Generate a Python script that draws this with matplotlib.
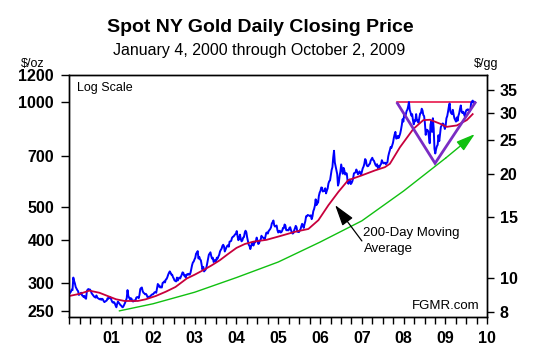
import numpy as np
import matplotlib
matplotlib.use("Agg")
import matplotlib.pyplot as plt
from matplotlib.ticker import FixedLocator, NullLocator, FixedFormatter

# ---------------- data (weekly closes, $/oz) ----------------
gold_2000 = [282, 284, 288, 287, 312, 305, 300, 293, 290, 287, 285, 278, 279,
             281, 282, 277, 276, 274, 276, 272, 271, 285, 288, 289, 288,
             288, 285, 281, 279, 277, 275, 274, 273, 277, 273, 272, 271, 270, 271,
             269, 271, 270, 267, 265, 266, 267, 268, 272, 271, 273, 274, 272]
gold_2001 = [268, 265, 264, 265, 263, 259, 256, 262, 266, 264, 262, 260, 259, 257,
             256, 258, 261, 264, 268, 272, 287, 276, 273, 270, 272, 271,
             267, 266, 268, 267, 268, 273, 274, 274, 272, 278, 289, 291, 292,
             285, 282, 281, 279, 280, 278, 274, 273, 275, 274, 276, 278, 279]
gold_2002 = [279, 281, 283, 283, 282, 291, 299, 294, 296, 292, 293, 292, 301,
             302, 304, 302, 308, 309, 313, 318, 322, 325, 322, 318, 318,
             313, 310, 306, 305, 304, 312, 306, 310, 312, 310, 314, 318, 323, 322,
             316, 317, 312, 318, 319, 318, 320, 318, 322, 330, 339, 345, 347]
gold_2003 = [352, 356, 366, 368, 372, 354, 358, 352, 350, 340, 329, 335,
             325, 327, 329, 334, 343, 352, 363, 366, 369, 360, 354, 356, 346,
             348, 351, 347, 356, 354, 359, 363, 371, 375, 378, 385, 388, 384,
             371, 376, 381, 385, 387, 383, 396, 397, 398, 406, 409, 410, 413, 416]
gold_2004 = [418, 425, 411, 400, 403, 415, 404, 397, 399, 407, 408, 420, 426,
             422, 408, 398, 388, 385, 377, 384, 391, 392, 386, 395, 394,
             398, 407, 399, 390, 392, 399, 401, 412, 408, 407, 405, 402, 410,
             420, 421, 418, 425, 428, 431, 436, 447, 451, 456, 442, 438, 439, 441]
gold_2005 = [428, 421, 424, 426, 421, 422, 426, 434, 433, 444, 441, 428, 427,
             428, 427, 434, 436, 428, 422, 418, 419, 427, 433, 440, 436,
             423, 424, 422, 427, 430, 439, 446, 442, 434, 445, 454, 469, 469,
             473, 472, 471, 469, 472, 460, 469, 485, 492, 503, 525, 505, 517, 513]
gold_2006 = [537, 549, 555, 568, 567, 553, 555, 555, 565, 546, 556, 564, 583,
             592, 595, 617, 638, 650, 693, 725, 671, 653, 637, 621, 575, 586, 613,
             631, 662, 641, 622, 647, 636, 619, 625, 623, 593, 582, 597, 599,
             581, 585, 592, 604, 624, 626, 628, 640, 631, 620, 624, 632]
gold_2007 = [625, 618, 631, 645, 652, 664, 686, 681, 659, 654, 655, 662, 665,
             679, 686, 692, 682, 679, 669, 660, 655, 663, 646, 654, 650,
             659, 664, 681, 672, 667, 668, 670, 663, 668, 672, 698, 714, 727, 743,
             739, 752, 765, 789, 808, 822, 786, 788, 800, 789, 800, 813, 834]
gold_2008 = [860, 894, 880, 924, 907, 922, 944, 953, 974, 1003, 950, 935,
             916, 925, 889, 864, 887, 882, 925, 886, 887, 873, 903, 929,
             931, 959, 948, 920, 913, 871, 806, 834, 833, 827, 797, 762, 862, 881,
             822, 900, 842, 735, 712, 732, 747, 754, 804, 773, 808, 849, 857, 869]
gold_2009 = [868, 855, 838, 857, 900, 913, 940, 972, 993, 940, 930, 925, 952, 923,
             900, 890, 880, 905, 885, 915, 930, 958, 980, 942, 932, 940,
             925, 912, 937, 950, 953, 955, 947, 941, 953, 996, 1006, 1012, 995, 1003]
series_start, series_end = 2000.02, 2009.69

# 200-day moving average
ma_years = [2000.0, 2000.25, 2000.48, 2000.72, 2000.95, 2001.12, 2001.32, 2001.64,
            2001.83, 2002.07, 2002.31, 2002.54, 2002.81, 2003.0, 2003.21, 2003.4,
            2003.6, 2003.8, 2004.0, 2004.2, 2004.4, 2004.72, 2005.04, 2005.4,
            2005.72, 2005.96, 2006.2, 2006.44, 2006.67, 2006.99, 2007.31, 2007.55,
            2007.67, 2007.91, 2008.23, 2008.47, 2008.63, 2008.87, 2009.03, 2009.27,
            2009.51, 2009.65]
ma_values = [276, 280, 286, 282, 275, 270, 267, 267, 270, 276, 284, 293, 310, 318,
             328, 338, 350, 365, 380, 390, 396, 401, 411, 423, 431, 457, 505, 552,
             596, 615, 636, 650, 665, 742, 838, 889, 891, 868, 850, 858, 889, 925]

# green long-term trend
trend_years = [2001.2, 2002.0, 2003.0, 2004.0, 2005.0, 2006.0, 2007.0, 2008.0, 2009.0, 2009.7]
trend_values = [250, 262, 283, 312, 346, 395, 455, 555, 690, 810]

# purple V pattern and red top line
v_years = [2007.85, 2008.75, 2009.71]
v_values = [994, 667, 998]
top_years = [2007.85, 2009.71]
top_values = [1000, 1000]

left_ticks = [250, 300, 400, 500, 700, 1000, 1200]
right_ticks = [8, 10, 15, 20, 25, 30, 35]
grams_per_oz = 31.1035
year_ticks = [2001, 2002, 2003, 2004, 2005, 2006, 2007, 2008, 2009, 2010]
year_labels = ["01", "02", "03", "04", "05", "06", "07", "08", "09", "10"]

# ---------------- plot ----------------
plt.rcParams['font.family'] = ['Liberation Sans', 'DejaVu Sans']

fig = plt.figure(figsize=(5.4, 3.59), dpi=100)
ax = fig.add_axes([0.1283, 0.117, 0.7741, 0.6741])

price = np.concatenate([gold_2000, gold_2001, gold_2002, gold_2003, gold_2004,
                        gold_2005, gold_2006, gold_2007, gold_2008, gold_2009])
dates = np.linspace(series_start, series_end, len(price))

ax.plot(dates, price, color='#0000ff', lw=1.4, zorder=3)
ax.plot(ma_years, ma_values, color='#c8003c', lw=1.3, zorder=4)
ax.plot(top_years, top_values, color='#e8184c', lw=1.2, zorder=2)
ax.plot(v_years, v_values, color='#7a2cc4', lw=2.0, zorder=5, solid_joinstyle='miter')
ax.plot(trend_years[:-1], trend_values[:-1], color='#10c010', lw=1.0, zorder=5)
ax.annotate('', xy=(trend_years[-1], trend_values[-1]),
            xytext=(trend_years[-2], trend_values[-2]),
            arrowprops=dict(arrowstyle='-|>,head_length=1.15,head_width=0.35',
                            mutation_scale=10, color='#10c010', lw=1.0,
                            shrinkA=0, shrinkB=0), zorder=6)

# moving-average annotation
ax.annotate('', xy=(2006.36, 505), xytext=(2007.0, 398),
            arrowprops=dict(arrowstyle='-|>,head_length=1.3,head_width=0.4',
                            mutation_scale=10, color='black', lw=0.9,
                            shrinkA=0, shrinkB=0), zorder=6)
ax.text(2007.02, 419, '200-Day Moving', fontsize=9.5, ha='left', va='center')
ax.text(2007.04, 377, 'Average', fontsize=9.5, ha='left', va='center')

ax.set_yscale('log')
ax.set_ylim(240, 1200)
ax.set_xlim(2000, 2010)

ax.yaxis.set_major_locator(FixedLocator(left_ticks))
ax.yaxis.set_major_formatter(FixedFormatter([str(v) for v in left_ticks]))
ax.yaxis.set_minor_locator(NullLocator())
ax.xaxis.set_major_locator(FixedLocator(year_ticks))
ax.xaxis.set_major_formatter(FixedFormatter(year_labels))
ax.xaxis.set_minor_locator(FixedLocator([2000 + q * 0.25 for q in range(41)]))

ax.tick_params(axis='y', which='major', direction='out', length=6, width=1,
               pad=5, labelsize=11.5)
for lab in ax.get_yticklabels():
    lab.set_fontweight('bold')
ax.tick_params(axis='x', which='both', direction='out', length=5, width=1, pad=5,
               labelsize=11.5)
for lab in ax.get_xticklabels():
    lab.set_fontweight('bold')

ax2 = ax.twinx()
ax2.set_yscale('log')
ax2.set_ylim(240 / grams_per_oz, 1200 / grams_per_oz)
ax2.yaxis.set_major_locator(FixedLocator(right_ticks))
ax2.yaxis.set_major_formatter(FixedFormatter([str(v) for v in right_ticks]))
ax2.yaxis.set_minor_locator(NullLocator())
ax2.tick_params(axis='y', which='major', direction='out', length=5, width=1,
                pad=4, labelsize=11.5)
for lab in ax2.get_yticklabels():
    lab.set_fontweight('bold')

for a in (ax, ax2):
    for s in a.spines.values():
        s.set_linewidth(1.0)
        s.set_color('black')

ax.text(0.018, 0.946, 'Log Scale', transform=ax.transAxes, fontsize=9,
        ha='left', va='center')
ax.text(0.981, 0.045, 'FGMR.com', transform=ax.transAxes, fontsize=9.5,
        ha='right', va='center')

fig.text(0.482, 1 - 27 / 359, 'Spot NY Gold Daily Closing Price', fontsize=14,
         fontweight='bold', ha='center', va='center')
fig.text(0.48, 1 - 51 / 359, 'January 4, 2000 through October 2, 2009', fontsize=11.5,
         ha='center', va='center')
fig.text(33 / 540, 1 - 64 / 359, '$/oz', fontsize=9, ha='center', va='center')
fig.text(486 / 540, 1 - 64 / 359, '$/gg', fontsize=9, ha='center', va='center')

fig.savefig('out.png', dpi=100)
